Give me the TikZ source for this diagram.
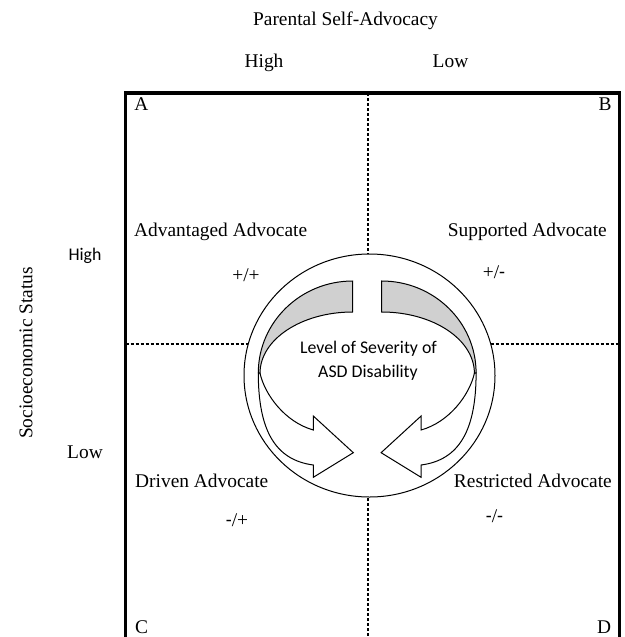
\documentclass[tikz,border=0pt]{standalone}
\usepackage{fontspec}
\setmainfont{Liberation Serif}
\newfontfamily\calfont{Carlito}
\definecolor{grayfill}{RGB}{208,208,208}
\newcommand\advarrow{%
  \filldraw[fill=grayfill, draw=black, line width=1pt]
    (352.7,281) .. controls (300.6,281) and (258.3,322.2) .. (258.3,373)
    -- (260,373.3) .. controls (260,339.4) and (301.5,312) .. (352.7,312) -- cycle;
  \filldraw[fill=white, draw=black, line width=1pt]
    (260,373.3) .. controls (265,395) and (285,422) .. (313.3,430)
    -- (313.3,416) -- (353.3,452.7) -- (313.3,477.3) -- (313.3,465)
    .. controls (275,460) and (258.3,430) .. (258.3,373) -- cycle;
}
\tikzset{
  serif/.style={font=\fontsize{19.4}{23}\selectfont, inner sep=0pt},
  sans/.style={font=\calfont\fontsize{17.8}{21}\selectfont, inner sep=0pt},
  divider/.style={dash pattern=on 3pt off 2pt, line width=2pt},
  frame/.style={line width=3.2pt}
}
\begin{document}
\begin{tikzpicture}[x=1pt, y=-1pt]
\useasboundingbox (0,0) rectangle (624,637);
% dividers
\draw[divider] (367.5,93) -- (367.5,640);
\draw[divider] (125.5,343.5) -- (619.5,343.5);
% central ellipse
\filldraw[fill=white, draw=black, line width=1pt] (369.5,375.5) ellipse [x radius=125.5, y radius=121.5];
% curved arrows
\advarrow
\begin{scope}[xshift=734.4pt, xscale=-1]
\advarrow
\end{scope}
% frame
\draw[frame] (125.5,640) -- (125.5,93) -- (619.5,93) -- (619.5,640);
% texts
\node[serif, anchor=base] (title) at (345.5,25) {Parental Self-Advocacy};
\node[serif, anchor=base] (phigh) at (264,67) {High};
\node[serif, anchor=base] (plow) at (450.5,67) {Low};
\node[serif, anchor=base] (qa) at (141.5,110) {A};
\node[serif, anchor=base] (qb) at (605,110) {B};
\node[serif, anchor=base] (qc) at (141.5,633) {C};
\node[serif, anchor=base] (qd) at (604,633) {D};
\node[serif, anchor=base west] (adv) at (134,236) {Advantaged Advocate};
\node[serif, anchor=base east] (sup) at (607,236.5) {Supported Advocate};
\node[serif, anchor=base] (pp) at (246,281) {+/+};
\node[serif, anchor=base] (pm) at (494,278) {+/{\calfont -}};
\node[serif, anchor=base west] (drv) at (135,487) {Driven Advocate};
\node[serif, anchor=base east] (res) at (612,487) {Restricted Advocate};
\node[serif, anchor=base] (mp) at (237,526) {{\calfont -}/+};
\node[serif, anchor=base] (mm) at (494.5,522) {{\calfont -}/{\calfont -}};
\node[sans, anchor=base] (shigh) at (85,260) {High};
\node[serif, anchor=base] (slow) at (85,458) {Low};
\node[serif, rotate=90] (ses) at (26,353) {Socioeconomic Status};
\node[sans, anchor=base] (lvl1) at (368.5,353) {Level of Severity of};
\node[sans, anchor=base] (lvl2) at (368,377) {ASD Disability};
\end{tikzpicture}
\end{document}
